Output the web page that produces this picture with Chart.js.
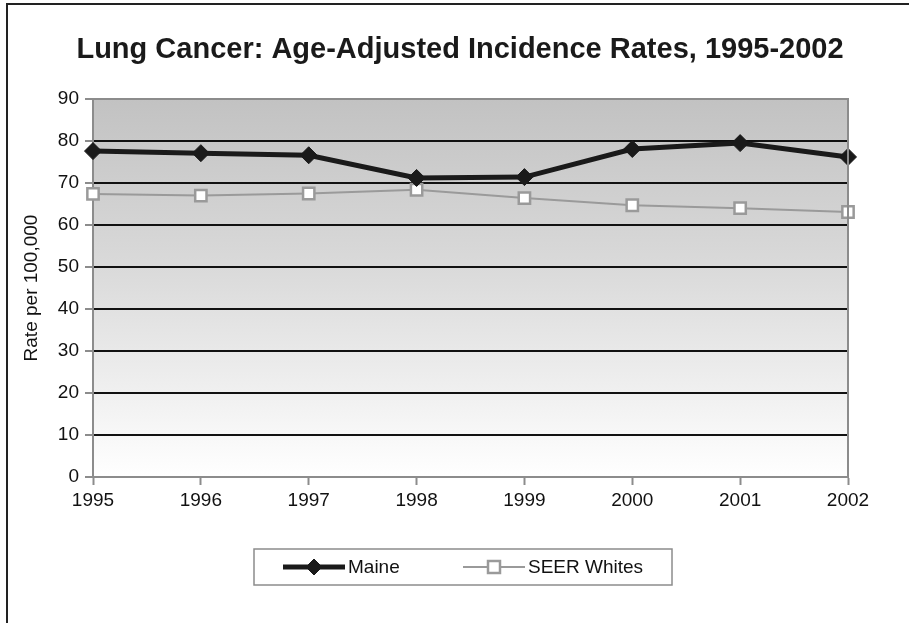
<!DOCTYPE html>
<html>
<head>
<meta charset="utf-8">
<title>Lung Cancer Incidence</title>
<script src="https://cdn.jsdelivr.net/npm/chart.js@4"></script>
<style>
  html, body { margin: 0; padding: 0; background: #fff; }
  #wrap { width: 909px; height: 623px; position: relative; }
</style>
</head>
<body>
<div id="wrap"><canvas id="lungChart"></canvas></div>
<script>
// Data
const years = ['1995', '1996', '1997', '1998', '1999', '2000', '2001', '2002'];
const maineRates = [77.6, 77.1, 76.6, 71.2, 71.4, 78.1, 79.5, 76.2];
const seerWhitesRates = [67.4, 67.0, 67.5, 68.4, 66.4, 64.7, 64.0, 63.1];

const chartTitle = 'Lung Cancer: Age-Adjusted Incidence Rates, 1995-2002';
const FONT = '"Liberation Sans", Arial, sans-serif';

// gray gradient behind the plot, gray frame round it, title, frame round the page
const plotBackground = {
    id: 'plotBackground',
    beforeDraw(chart) {
        const { ctx, chartArea: a } = chart;
        const g = ctx.createLinearGradient(0, a.top, 0, a.bottom);
        g.addColorStop(0, '#c2c2c2');
        g.addColorStop(0.45, '#dadada');
        g.addColorStop(1, '#ffffff');
        ctx.save();
        ctx.fillStyle = g;
        ctx.fillRect(a.left, a.top, a.right - a.left, a.bottom - a.top);
        ctx.restore();
    },
    afterDraw(chart) {
        const { ctx, chartArea: a } = chart;
        ctx.save();
        ctx.strokeStyle = '#8c8c8c';
        ctx.lineWidth = 2;
        ctx.beginPath();
        ctx.moveTo(a.left, a.top);
        ctx.lineTo(a.right, a.top);
        ctx.lineTo(a.right, a.bottom);
        ctx.stroke();
        ctx.strokeStyle = '#222';
        ctx.lineWidth = 2;
        ctx.strokeRect(7, 4, 1000, 1000);
        // title, centred a little right of the canvas middle as in the original
        ctx.fillStyle = '#1a1a1a';
        ctx.font = 'bold 29px ' + FONT;
        ctx.textAlign = 'center';
        ctx.textBaseline = 'middle';
        ctx.fillText(chartTitle, 460, 50);
        ctx.restore();
    }
};

// boxed legend with line + marker samples
const boxLegend = {
    id: 'boxLegend',
    afterDraw(chart) {
        const { ctx } = chart;
        const box = { x: 254, y: 549, w: 418, h: 36 };
        const cy = box.y + box.h / 2;
        ctx.save();
        ctx.fillStyle = '#fff';
        ctx.fillRect(box.x, box.y, box.w, box.h);
        ctx.strokeStyle = '#8c8c8c';
        ctx.lineWidth = 1.5;
        ctx.strokeRect(box.x, box.y, box.w, box.h);
        const starts = [283, 463];
        chart.data.datasets.forEach((ds, i) => {
            const x0 = starts[i], x1 = x0 + 62, xm = (x0 + x1) / 2;
            ctx.strokeStyle = ds.borderColor;
            ctx.lineWidth = ds.borderWidth;
            ctx.beginPath();
            ctx.moveTo(x0, cy);
            ctx.lineTo(x1, cy);
            ctx.stroke();
            ctx.fillStyle = ds.pointBackgroundColor;
            ctx.strokeStyle = ds.pointBorderColor;
            ctx.lineWidth = ds.pointBorderWidth;
            ctx.beginPath();
            if (ds.pointStyle === 'rectRot') {
                const r = ds.legendRadius;
                ctx.moveTo(xm, cy - r); ctx.lineTo(xm + r, cy);
                ctx.lineTo(xm, cy + r); ctx.lineTo(xm - r, cy);
                ctx.closePath();
            } else {
                const s = ds.legendRadius;
                ctx.rect(xm - s, cy - s, 2 * s, 2 * s);
            }
            ctx.fill();
            ctx.stroke();
            ctx.fillStyle = '#111';
            ctx.font = '19px ' + FONT;
            ctx.textBaseline = 'middle';
            ctx.fillText(ds.label, x1 + 3, cy + 1);
        });
        ctx.restore();
    }
};

const ctx = document.getElementById('lungChart').getContext('2d');

new Chart(ctx, {
    type: 'line',
    data: {
        labels: years,
        datasets: [{
            label: 'Maine',
            data: maineRates,
            borderColor: '#1a1a1a',
            borderWidth: 5,
            pointStyle: 'rectRot',
            pointRadius: 8.5,
            pointBackgroundColor: '#1a1a1a',
            pointBorderColor: '#1a1a1a',
            pointBorderWidth: 1,
            legendRadius: 8
        }, {
            label: 'SEER Whites',
            data: seerWhitesRates,
            borderColor: '#9a9a9a',
            borderWidth: 2,
            pointStyle: 'rect',
            pointRadius: 8,
            pointBackgroundColor: '#ffffff',
            pointBorderColor: '#9a9a9a',
            pointBorderWidth: 2.5,
            legendRadius: 6,
            order: 1
        }]
    },
    options: {
        responsive: true,
        maintainAspectRatio: false,
        animation: false,
        layout: { padding: { top: 99, right: 61, bottom: 0, left: 0 } },
        plugins: {
            legend: { display: false },
            tooltip: { enabled: false },
            title: { display: false }
        },
        scales: {
            x: {
                offset: false,
                afterFit: s => { s.height = 146; },
                grid: {
                    drawOnChartArea: false,
                    drawTicks: true,
                    tickLength: 8,
                    tickColor: '#8c8c8c',
                    tickWidth: 2
                },
                border: { color: '#8c8c8c', width: 2 },
                ticks: {
                    color: '#111',
                    font: { family: FONT, size: 19 },
                    padding: 4,
                    maxRotation: 0
                }
            },
            y: {
                min: 0,
                max: 90,
                afterFit: s => { s.width = 93; },
                ticks: {
                    stepSize: 10,
                    color: '#111',
                    font: { family: FONT, size: 19 },
                    padding: 6
                },
                grid: {
                    color: c => (c.tick && (c.tick.value === 0 || c.tick.value === 90)) ? 'rgba(0,0,0,0)' : '#111',
                    lineWidth: 2,
                    tickLength: 8,
                    tickColor: '#8c8c8c',
                    tickWidth: 2
                },
                border: { color: '#8c8c8c', width: 2 },
                title: {
                    display: true,
                    text: 'Rate per 100,000',
                    color: '#111',
                    font: { family: FONT, size: 19 },
                    padding: { top: 20, bottom: 0 }
                }
            }
        }
    },
    plugins: [plotBackground, boxLegend]
});
</script>
</body>
</html>
